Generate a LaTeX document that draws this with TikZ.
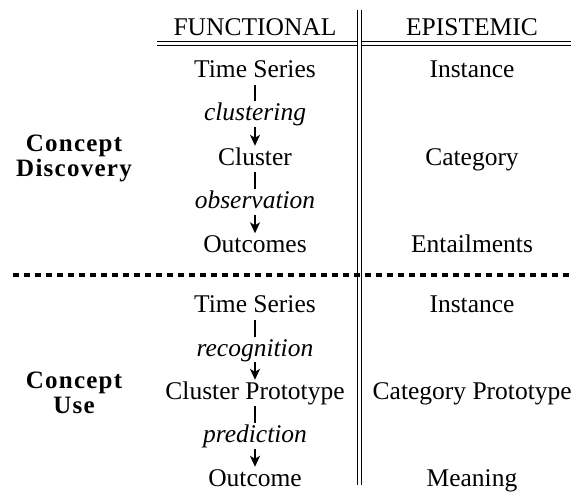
\documentclass[tikz,border=0pt]{standalone}
\usepackage{fontspec}
\setmainfont{Liberation Serif}
\newfontfamily\spacedfont{Liberation Serif}[LetterSpace=5]
\usetikzlibrary{arrows.meta}
\begin{document}
\begin{tikzpicture}[x=1pt,y=-1pt,
  txt/.style={inner sep=0pt, anchor=base, text height=17pt, text depth=6pt,
    font=\fontsize{25.5}{30}\selectfont},
  lab/.style={txt, font=\fontsize{25.5}{30}\selectfont\itshape},
  sect/.style={inner sep=0pt, align=center,
    font=\fontsize{25}{25}\selectfont\spacedfont\bfseries},
  tick/.style={line width=1.5pt, shorten <=1pt, shorten >=2pt},
  flow/.style={line width=1.5pt, shorten >=2pt, -{Stealth[length=11pt,width=10pt,inset=3pt]}},
  rule/.style={line width=1.4pt, double, double distance=2.6pt}]
\useasboundingbox (0,0) rectangle (571,493);

% headers
\node[txt] (hf) at (255,35) {FUNCTIONAL};
\node[txt] (he) at (472,35) {EPISTEMIC};

% rules
\coordinate (rl) at (157,43.7);
\coordinate (rr) at (571,43.7);
\coordinate (vt) at (359.7,10);
\coordinate (vb) at (359.7,485);
\draw[rule] (rl) -- (rr);
\draw[rule] (vt) -- (vb);

% dashed separator
\coordinate (dl) at (13,275);
\coordinate (dr) at (571,275);
\draw[line width=3.3pt, dash pattern=on 5.5pt off 5.5pt] (dl) -- (dr);

% section labels
\node[sect, anchor=base] (cd1) at (74,151.5) {Concept};
\node[sect, anchor=base] (cd2) at (74,176.5) {Discovery};
\node[sect, anchor=base] (cu1) at (74,388) {Concept};
\node[sect, anchor=base] (cu2) at (74,413) {Use};

% upper functional column
\node[txt] (ts1) at (255,77.5) {Time Series};
\node[lab] (l1)  at (255,120.5) {clustering};
\node[txt] (cl)  at (255,165) {Cluster};
\node[lab] (l2)  at (255,208.5) {observation};
\node[txt] (oc1) at (255,252.5) {Outcomes};
\draw[tick] (ts1) -- (l1);
\draw[flow] (l1) -- (cl);
\draw[tick] (cl) -- (l2);
\draw[flow] (l2) -- (oc1);

% upper epistemic column
\node[txt] (in1) at (472,77.5) {Instance};
\node[txt] (ca)  at (472,165) {Category};
\node[txt] (en)  at (472,252.5) {Entailments};

% lower functional column
\node[txt] (ts2) at (255,312.5) {Time Series};
\node[lab] (l3)  at (255,356) {recognition};
\node[txt] (cp)  at (255,399) {Cluster Prototype};
\node[lab] (l4)  at (255,442.5) {prediction};
\node[txt] (oc2) at (255,486) {Outcome};
\draw[tick] (ts2) -- (l3);
\draw[flow] (l3) -- (cp);
\draw[tick] (cp) -- (l4);
\draw[flow] (l4) -- (oc2);

% lower epistemic column
\node[txt] (in2) at (472,312.5) {Instance};
\node[txt, anchor=base west] (cap) at (372.5,399) {Category Prototype};
\node[txt] (me)  at (472,486) {Meaning};
\end{tikzpicture}
\end{document}
